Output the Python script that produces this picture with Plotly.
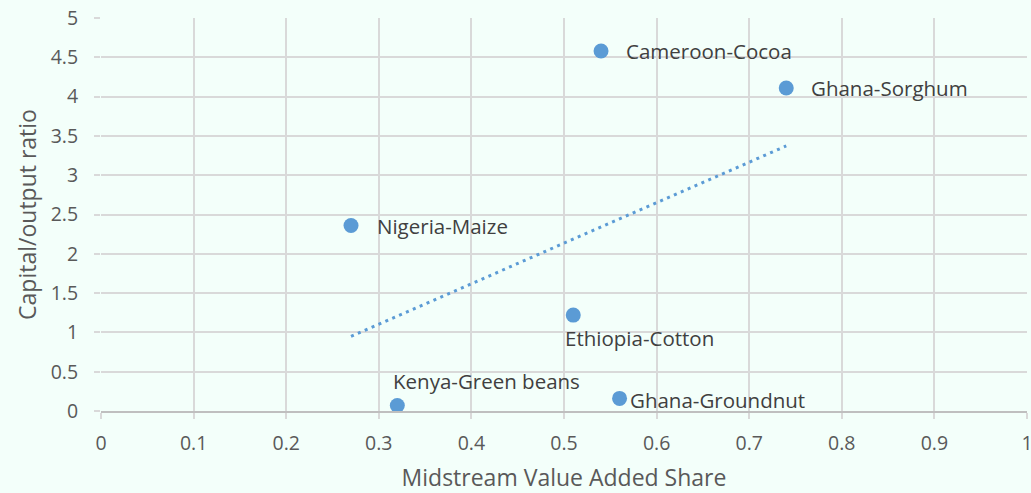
import numpy as np
import plotly.graph_objects as go

labels = ["Nigeria-Maize", "Cameroon-Cocoa", "Ghana-Sorghum", "Ethiopia-Cotton",
          "Kenya-Green beans", "Ghana-Groundnut"]
x_vals = [0.27, 0.54, 0.74, 0.51, 0.32, 0.56]
y_vals = [2.36, 4.58, 4.11, 1.22, 0.07, 0.16]
# label placement: (xanchor, yanchor, xshift, yshift)
label_pos = [("left", "middle", 24, 0), ("left", "middle", 23, 0), ("left", "middle", 23, 0),
             ("left", "middle", -10, -23), ("left", "middle", -6, 25), ("left", "middle", 8, -2)]

x_ticks = [0, 0.1, 0.2, 0.3, 0.4, 0.5, 0.6, 0.7, 0.8, 0.9, 1]
y_ticks = [0, 0.5, 1, 1.5, 2, 2.5, 3, 3.5, 4, 4.5, 5]

color = "#5B9BD5"
bg = "#F3FFFA"
grid = "#D9D9D9"
font = "Open Sans, Noto Sans, sans-serif"

slope, intercept = np.polyfit(x_vals, y_vals, 1)
tx = np.array([min(x_vals), max(x_vals)])
ty = slope * tx + intercept

fig = go.Figure()
fig.add_trace(go.Scatter(x=tx, y=ty, mode="lines",
                         line=dict(color=color, width=3, dash="3px,4.5px"),
                         hoverinfo="skip", showlegend=False))
fig.add_trace(go.Scatter(x=x_vals, y=y_vals, mode="markers",
                         marker=dict(color=color, size=15),
                         text=labels, showlegend=False))

for lab, xv, yv, (xa, ya, xs, ys) in zip(labels, x_vals, y_vals, label_pos):
    fig.add_annotation(x=xv, y=yv, text=lab, showarrow=False, xanchor=xa, yanchor=ya,
                       xshift=xs, yshift=ys, font=dict(size=20.5, color="#404040", family=font))

fig.update_layout(
    width=1031, height=493,
    margin=dict(l=101, r=4, t=18, b=82),
    paper_bgcolor=bg, plot_bgcolor=bg,
    font=dict(family=font, color="#595959", size=19),
    xaxis=dict(range=[0, 1], tickvals=x_ticks, ticktext=[f"{v:g}" for v in x_ticks],
               automargin=False,
               showgrid=True, gridcolor=grid, gridwidth=1.5, zeroline=False,
               showline=True, linecolor="#BFBFBF", linewidth=1.5,
               ticks="outside", ticklen=6, tickcolor=grid, tickwidth=1.5,
               ticklabelstandoff=8, ticklabeloverflow="allow",
               title=dict(text="Midstream Value Added Share", font=dict(size=23, color="#595959"),
                          standoff=21),
               tickfont=dict(size=19.5, color="#595959")),
    yaxis=dict(range=[0, 5], tickvals=y_ticks, ticktext=[f"{v:g}" for v in y_ticks],
               automargin=False,
               showgrid=True, gridcolor=grid, gridwidth=1.5, zeroline=False,
               showline=False, ticks="outside", ticklen=6, tickcolor=grid, tickwidth=1.5,
               ticklabelstandoff=12,
               title=dict(text="Capital/output ratio", font=dict(size=23, color="#595959"),
                          standoff=7),
               tickfont=dict(size=19.5, color="#595959")),
)

fig.write_html("out.html")
